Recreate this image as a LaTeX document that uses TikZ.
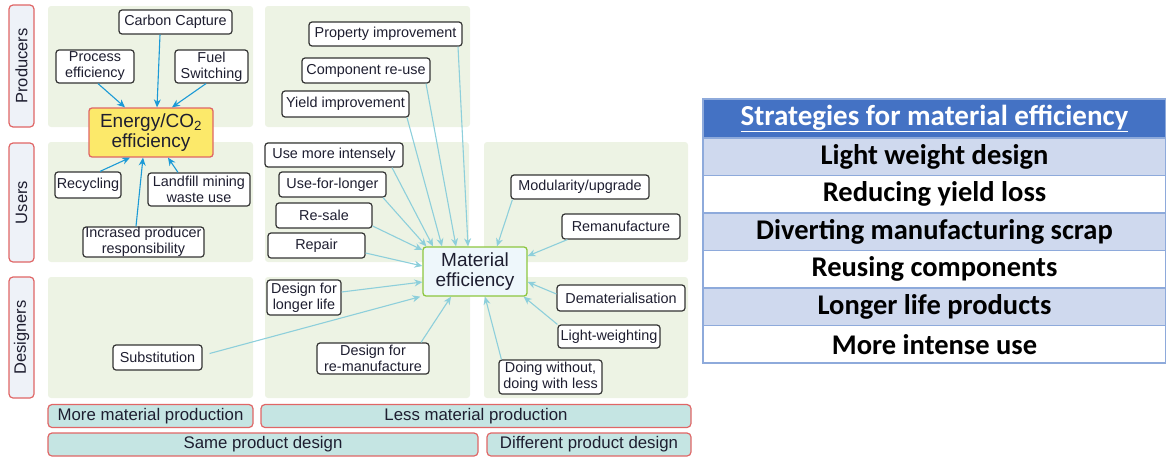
\documentclass[tikz,border=0pt]{standalone}
\usepackage{fontspec}
\setmainfont{Liberation Sans}
\newfontfamily\calib{Carlito}
\usetikzlibrary{arrows.meta}
\definecolor{panel}{HTML}{EDF3E4}
\definecolor{rowfill}{HTML}{EEF2F8}
\definecolor{redline}{HTML}{E06666}
\definecolor{barfill}{HTML}{C5E5E3}
\definecolor{yel}{HTML}{FCE96A}
\definecolor{mefill}{HTML}{EEF7FB}
\definecolor{megreen}{HTML}{8DC63F}
\definecolor{ebl}{HTML}{1B9AD6}
\definecolor{mbl}{HTML}{8DCFDB}
\definecolor{txt}{HTML}{1E1E30}
\definecolor{hdr}{HTML}{4472C4}
\definecolor{lrow}{HTML}{CFD9EE}
\definecolor{tline}{HTML}{8EAADB}
\tikzset{
  lbl/.style={draw=black!80, line width=1.2pt, fill=white, rounded corners=3pt, inner sep=0pt,
    align=center, text=txt, font=\fontsize{14.4}{16}\selectfont},
  rowlab/.style={draw=redline, line width=1.2pt, fill=rowfill, rounded corners=4pt, inner sep=0pt,
    text=txt, font=\fontsize{16.5}{18}\selectfont, rotate=90},
  bar/.style={draw=redline, line width=1.2pt, fill=barfill, rounded corners=4pt, inner sep=0pt,
    text=txt, font=\fontsize{16.8}{18}\selectfont},
  pnl/.style={fill=panel, rounded corners=3pt},
  earr/.style={draw=ebl, line width=1.1pt, -{Stealth[length=8pt,width=7pt]}},
  marr/.style={draw=mbl, line width=1.1pt, -{Stealth[length=8pt,width=7pt]}},
  trow/.style={draw=tline, line width=1.8pt, inner sep=0pt, outer sep=0pt, minimum width=463, minimum height=37.5,
    font=\calib\bfseries\fontsize{28.5}{30}\selectfont, text=black},
}
\begin{document}
\begin{tikzpicture}[x=1pt,y=-1pt]
\useasboundingbox (0,0) rectangle (1166,458);
% panels
\path[pnl] (48,6) rectangle (253,127);
\path[pnl] (265,6) rectangle (470,127);
\path[pnl] (48,142) rectangle (253,262);
\path[pnl] (265,142) rectangle (469,262);
\path[pnl] (484,142) rectangle (688,262);
\path[pnl] (48,277) rectangle (253,398);
\path[pnl] (265,277) rectangle (470,398);
\path[pnl] (484,277) rectangle (688,398);
% row labels
\node[rowlab, minimum width=122, minimum height=25] (prod) at (21.5,66) {Producers};
\node[rowlab, minimum width=119, minimum height=25] (users) at (21.5,202.5) {Users};
\node[rowlab, minimum width=121, minimum height=25] (des) at (21.5,337.5) {Designers};
% bottom bars
\node[bar, minimum width=205, minimum height=23] (more) at (150.5,416) {More material production};
\node[bar, minimum width=430, minimum height=23] (less) at (476,416) {Less material production};
\node[bar, minimum width=430, minimum height=23] (same) at (263,444.5) {Same product design};
\node[bar, minimum width=204, minimum height=23] (diff) at (589,444.5) {Different product design};
% energy cluster
\node[draw=redline, line width=1.3pt, fill=yel, rounded corners=3pt, inner sep=0pt, minimum width=124,
  minimum height=49, align=center, text=txt, font=\fontsize{19}{20}\selectfont] (en) at (151,132.5)
  {Energy/CO\textsubscript{2}\\efficiency};
\node[lbl, minimum width=113, minimum height=24] (cc) at (175.5,22) {Carbon Capture};
\node[lbl, minimum width=78, minimum height=33] (pe) at (95,66.5) {Process\\efficiency};
\node[lbl, minimum width=73, minimum height=33] (fs) at (211.5,66.5) {Fuel\\Switching};
\node[lbl, minimum width=66, minimum height=26] (rc) at (88,185) {Recycling};
\node[lbl, minimum width=102, minimum height=33] (lf) at (199,189.5) {Landfill mining\\waste use};
\node[lbl, minimum width=121, minimum height=30] (ip) at (143.5,242) {Incrased producer\\responsibility};
\draw[earr] ([xshift=-15.5pt]cc.south) -- ([xshift=6pt]en.north);
\draw[earr] ([xshift=3pt]pe.south) -- ([xshift=-26pt]en.north);
\draw[earr] ([xshift=-5.5pt]fs.south) -- ([xshift=21pt]en.north);
\draw[earr] ([xshift=12pt]rc.north) -- ([xshift=-21pt]en.south);
\draw[earr] ([xshift=-21pt]lf.north) -- ([xshift=17pt]en.south);
\draw[earr] ([xshift=-7.5pt]ip.north) -- ([xshift=-8pt]en.south);
% material cluster
\node[draw=megreen, line width=1.3pt, fill=mefill, rounded corners=3pt, inner sep=0pt, minimum width=104,
  minimum height=49, align=center, text=txt, font=\fontsize{19}{20}\selectfont] (me) at (475,271.5)
  {Material\\efficiency};
\node[lbl, minimum width=153, minimum height=24] (pi) at (385.5,34) {Property improvement};
\node[lbl, minimum width=128, minimum height=25] (cr) at (366,70.5) {Component re-use};
\node[lbl, minimum width=127, minimum height=26] (yi) at (345.5,104) {Yield improvement};
\node[lbl, minimum width=138, minimum height=24] (um) at (334,155) {Use more intensely};
\node[lbl, minimum width=107, minimum height=25] (ul) at (332.5,184.5) {Use-for-longer};
\node[lbl, minimum width=96, minimum height=25] (rs) at (324,215.5) {Re-sale};
\node[lbl, minimum width=97, minimum height=25] (rp) at (316.5,245.5) {Repair};
\node[lbl, minimum width=138, minimum height=24] (mu) at (580,187) {Modularity/upgrade};
\node[lbl, minimum width=118, minimum height=25] (rm) at (621,226.5) {Remanufacture};
\node[lbl, minimum width=74, minimum height=35] (dl) at (304,297.5) {Design for\\longer life};
\node[lbl, minimum width=89, minimum height=25] (sb) at (157.5,357.5) {Substitution};
\node[lbl, minimum width=112, minimum height=31] (dr) at (373,358.5) {Design for\\re-manufacture};
\node[lbl, minimum width=103, minimum height=34] (dw) at (550.5,377) {Doing without,\\doing with less};
\node[lbl, minimum width=102, minimum height=23] (lw) at (609,336.5) {Light-weighting};
\node[lbl, minimum width=128, minimum height=26] (dm) at (621,298) {Dematerialisation};
\draw[marr] ([xshift=72.5pt]pi.south) -- ([xshift=-7pt]me.north);
\draw[marr] ([xshift=60pt]cr.south) -- ([xshift=-19pt]me.north);
\draw[marr] ([xshift=61.5pt]yi.south) -- ([xshift=-33pt]me.north);
\draw[marr] ([xshift=58pt]um.south) -- ([xshift=-42pt]me.north);
\draw[marr] ([xshift=50.5pt]ul.south) -- ([xshift=4pt]me.north west);
\draw[marr] ([yshift=-10.5pt]rs.east) -- ([yshift=21.5pt]me.west);
\draw[marr] ([yshift=-7.5pt]rp.east) -- ([yshift=5.5pt]me.west);
\draw[marr] ([xshift=2pt]mu.south west) -- ([xshift=22pt]me.north);
\draw[marr] ([xshift=6pt]rm.south west) -- ([yshift=15.5pt]me.east);
\draw[marr] ([yshift=5.5pt]dl.east) -- ([yshift=-10.5pt]me.west);
\draw[marr] ([xshift=7pt,yshift=4pt]sb.east) -- ([xshift=-2pt]me.south west);
\draw[marr] ([xshift=48pt]dr.north) -- ([xshift=-24pt]me.south);
\draw[marr] ([xshift=3pt]dw.north west) -- ([xshift=10pt]me.south);
\draw[marr] (lw.north west) -- ([xshift=-4pt]me.south east);
\draw[marr] ([yshift=4pt]dm.west) -- ([yshift=-10.5pt]me.east);
% table
\node[trow, fill=hdr, text=white, minimum height=39, font=\calib\bfseries\fontsize{29}{31}\selectfont]
  (th) at (934.5,118.5) {\underline{Strategies for material efficiency}};
\node[trow, fill=lrow, anchor=north] (t1) at (th.south) {Light weight design};
\node[trow, fill=white, anchor=north] (t2) at (t1.south) {Reducing yield loss};
\node[trow, fill=lrow, anchor=north] (t3) at (t2.south) {Diverting manufacturing scrap};
\node[trow, fill=white, anchor=north] (t4) at (t3.south) {Reusing components};
\node[trow, fill=lrow, anchor=north] (t5) at (t4.south) {Longer life products};
\node[trow, fill=white, anchor=north] (t6) at (t5.south) {More intense use};
\end{tikzpicture}
\end{document}
